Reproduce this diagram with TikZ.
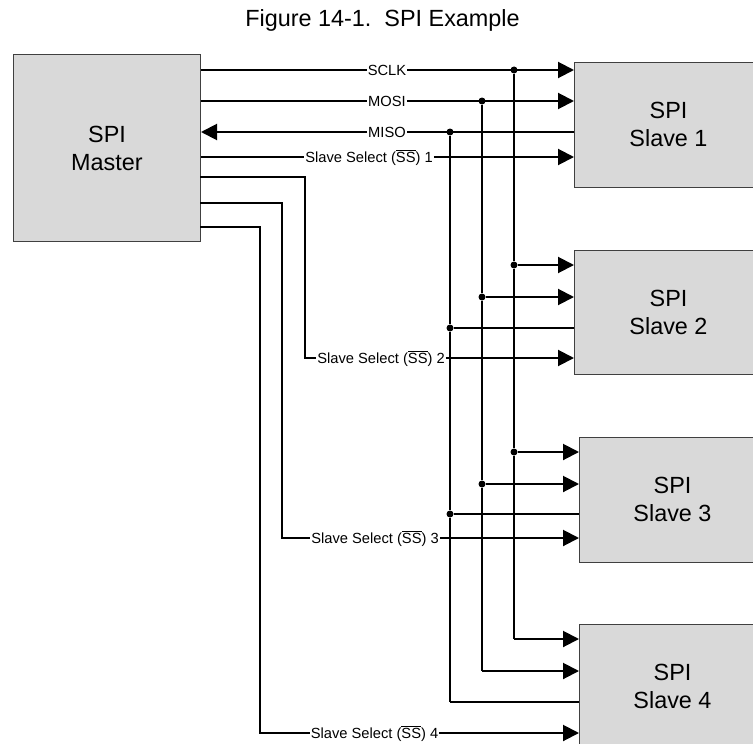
\documentclass[tikz,border=0pt]{standalone}
\usepackage{fontspec}
\setmainfont{Liberation Sans}
\usetikzlibrary{arrows.meta}

\begin{document}
\begin{tikzpicture}[x=1bp, y=-1bp,
	box/.style={draw=black!75, fill=black!15, line width=1bp, align=center, inner sep=0pt, anchor=north west, font=\fontsize{23.4bp}{28bp}\selectfont},
	sig/.style={line width=2bp},
	sigarr/.style={sig, -{Triangle[length=16bp, width=16bp]}},
	lbl/.style={inner sep=1bp, text height=10.6bp, text depth=0pt, font=\fontsize{14.7bp}{17bp}\selectfont},
	jdot/.style={circle, fill=black, inner sep=0pt, minimum size=7bp}]
	\useasboundingbox (0,0) rectangle (753,744);

	% Title
	\node[font=\fontsize{23.4bp}{28bp}\selectfont] (title) at (382.5,20) {Figure 14-1.\ \ SPI Example};

	% Blocks
	\node[box, minimum width=187bp, minimum height=187bp] (master) at (13,54) {SPI\\Master};
	\node[box, minimum width=188bp, minimum height=124.5bp] (s1) at (574,62) {SPI\\Slave 1};
	\node[box, minimum width=188bp, minimum height=124.5bp] (s2) at (574,249.5) {SPI\\Slave 2};
	\node[box, minimum width=186bp, minimum height=124.5bp] (s3) at (579,437) {SPI\\Slave 3};
	\node[box, minimum width=186bp, minimum height=124.5bp] (s4) at (579,624) {SPI\\Slave 4};

	% Signal labels
	\node[lbl] (sclk) at (387,70) {SCLK};
	\node[lbl] (mosi) at (387,101) {MOSI};
	\node[lbl] (miso) at (387,132) {MISO};
	\node[lbl] (ss1) at (369,157) {Slave Select (\ensuremath{\overline{\mbox{SS}}}) 1};
	\node[lbl] (ss2) at (381,358) {Slave Select (\ensuremath{\overline{\mbox{SS}}}) 2};
	\node[lbl] (ss3) at (375,538) {Slave Select (\ensuremath{\overline{\mbox{SS}}}) 3};
	\node[lbl] (ss4) at (374.5,733) {Slave Select (\ensuremath{\overline{\mbox{SS}}}) 4};

	% Junctions
	\node[jdot] (ck1) at (514,70) {};
	\node[jdot] (ck2) at (514,265) {};
	\node[jdot] (ck3) at (514,452) {};
	\coordinate (ck4) at (514,639);
	\node[jdot] (mo1) at (482,101) {};
	\node[jdot] (mo2) at (482,297) {};
	\node[jdot] (mo3) at (482,484) {};
	\coordinate (mo4) at (482,671);
	\node[jdot] (mi1) at (450,132) {};
	\node[jdot] (mi2) at (450,328) {};
	\node[jdot] (mi3) at (450,514) {};
	\coordinate (mi4) at (450,702);

	% SCLK
	\draw[sig] (master.east |- sclk) -- (sclk);
	\draw[sigarr] (sclk) -- (s1.west |- sclk);
	\draw[sig] (ck1) -- (ck2) -- (ck3) -- (ck4);
	\draw[sigarr] (ck2) -- (s2.west |- ck2);
	\draw[sigarr] (ck3) -- (s3.west |- ck3);
	\draw[sigarr] (ck4) -- (s4.west |- ck4);

	% MOSI
	\draw[sig] (master.east |- mosi) -- (mosi);
	\draw[sigarr] (mosi) -- (s1.west |- mosi);
	\draw[sig] (mo1) -- (mo2) -- (mo3) -- (mo4);
	\draw[sigarr] (mo2) -- (s2.west |- mo2);
	\draw[sigarr] (mo3) -- (s3.west |- mo3);
	\draw[sigarr] (mo4) -- (s4.west |- mo4);

	% MISO
	\draw[sig] (s1.west |- miso) -- (miso);
	\draw[sigarr] (miso) -- (master.east |- miso);
	\draw[sig] (mi1) -- (mi2) -- (mi3) -- (mi4);
	\draw[sig] (mi2) -- (s2.west |- mi2);
	\draw[sig] (mi3) -- (s3.west |- mi3);
	\draw[sig] (mi4) -- (s4.west |- mi4);

	% Slave selects
	\draw[sig] (master.east |- ss1) -- (ss1);
	\draw[sigarr] (ss1) -- (s1.west |- ss1);
	\draw[sig] (200,177) -- (305,177) -- (305,358) -- (ss2);
	\draw[sigarr] (ss2) -- (s2.west |- ss2);
	\draw[sig] (200,203) -- (282,203) -- (282,538) -- (ss3);
	\draw[sigarr] (ss3) -- (s3.west |- ss3);
	\draw[sig] (200,227) -- (260,227) -- (260,733) -- (ss4);
	\draw[sigarr] (ss4) -- (s4.west |- ss4);
\end{tikzpicture}
\end{document}
